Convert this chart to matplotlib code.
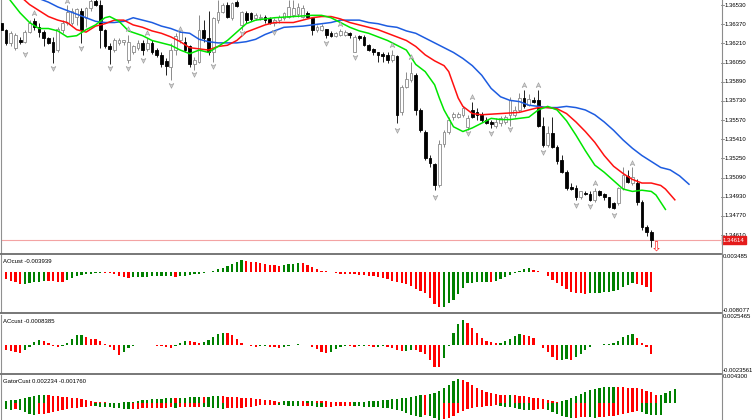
import numpy as np
import matplotlib.pyplot as plt
import matplotlib.transforms as mtransforms
from matplotlib.lines import Line2D
from matplotlib.path import Path

# ---- price data (EURUSD-like, one bar per index) ----
opens = [1.3643, 1.3637, 1.3626, 1.3622, 1.3628, 1.3627, 1.3635, 1.3644, 1.3639, 1.3635,
         1.3630, 1.3627, 1.3620, 1.3637, 1.3643, 1.3643, 1.3648, 1.3653, 1.3647, 1.3655,
         1.3661, 1.3658, 1.3637, 1.3623, 1.3620, 1.3626, 1.3627, 1.3612, 1.3618, 1.3622,
         1.3626, 1.3621, 1.3626, 1.3620, 1.3616, 1.3611, 1.3606, 1.3620, 1.3628, 1.3627,
         1.3623, 1.3608, 1.3610, 1.3637, 1.3630, 1.3618, 1.3645, 1.3652, 1.3658, 1.3647,
         1.3660, 1.3641, 1.3651, 1.3651, 1.3647, 1.3647, 1.3648, 1.3646, 1.3643, 1.3645,
         1.3647, 1.3648, 1.3649, 1.3650, 1.3648, 1.3651, 1.3647, 1.3637, 1.3637, 1.3638,
         1.3634, 1.3632, 1.3633, 1.3633, 1.3634, 1.3618, 1.3632, 1.3631, 1.3624, 1.3621,
         1.3618, 1.3617, 1.3616, 1.3612, 1.3615, 1.3568, 1.3589, 1.3595, 1.3599, 1.3570,
         1.3552, 1.3530, 1.3525, 1.3507, 1.3542, 1.3552, 1.3564, 1.3564, 1.3566, 1.3556,
         1.3570, 1.3568, 1.3566, 1.3562, 1.3560, 1.3557, 1.3559, 1.3560, 1.3566, 1.3566,
         1.3570, 1.3580, 1.3574, 1.3578, 1.3578, 1.3557, 1.3541, 1.3551, 1.3539, 1.3528,
         1.3518, 1.3506, 1.3505, 1.3497, 1.3501, 1.3500, 1.3495, 1.3502, 1.3500, 1.3497,
         1.3492, 1.3492, 1.3505, 1.3515, 1.3509, 1.3509, 1.3493, 1.3472, 1.3468]
highs = [1.3645, 1.3638, 1.3636, 1.3634, 1.3631, 1.3637, 1.3645, 1.3647, 1.3643, 1.3637,
         1.3631, 1.3631, 1.3639, 1.3645, 1.3658, 1.3655, 1.3655, 1.3655, 1.3656, 1.3664,
         1.3664, 1.3662, 1.3638, 1.3626, 1.3630, 1.3630, 1.3628, 1.3633, 1.3624, 1.3628,
         1.3628, 1.3630, 1.3628, 1.3622, 1.3618, 1.3613, 1.3626, 1.3634, 1.3636, 1.3631,
         1.3624, 1.3614, 1.3649, 1.3645, 1.3653, 1.3648, 1.3662, 1.3659, 1.3660, 1.3660,
         1.3662, 1.3653, 1.3653, 1.3652, 1.3651, 1.3650, 1.3649, 1.3648, 1.3647, 1.3649,
         1.3652, 1.3662, 1.3662, 1.3659, 1.3658, 1.3653, 1.3648, 1.3641, 1.3642, 1.3638,
         1.3636, 1.3635, 1.3638, 1.3637, 1.3635, 1.3633, 1.3633, 1.3633, 1.3625, 1.3622,
         1.3618, 1.3618, 1.3618, 1.3620, 1.3616, 1.3591, 1.3602, 1.3610, 1.3601, 1.3572,
         1.3553, 1.3532, 1.3526, 1.3545, 1.3553, 1.3564, 1.3568, 1.3568, 1.3573, 1.3566,
         1.3577, 1.3572, 1.3568, 1.3564, 1.3562, 1.3563, 1.3565, 1.3566, 1.3581, 1.3573,
         1.3584, 1.3587, 1.3583, 1.3581, 1.3587, 1.3564, 1.3557, 1.3564, 1.3541, 1.3532,
         1.3520, 1.3509, 1.3507, 1.3502, 1.3502, 1.3502, 1.3505, 1.3503, 1.3501, 1.3497,
         1.3493, 1.3506, 1.3522, 1.3520, 1.3522, 1.3512, 1.3495, 1.3474, 1.3470]
lows = [1.3635, 1.3624, 1.3623, 1.3620, 1.3625, 1.3626, 1.3634, 1.3637, 1.3631, 1.3623,
        1.3625, 1.3609, 1.3618, 1.3634, 1.3641, 1.3641, 1.3641, 1.3626, 1.3639, 1.3653,
        1.3657, 1.3622, 1.3622, 1.3608, 1.3618, 1.3624, 1.3624, 1.3609, 1.3617, 1.3620,
        1.3616, 1.3619, 1.3617, 1.3614, 1.3606, 1.3599, 1.3595, 1.3616, 1.3626, 1.3618,
        1.3606, 1.3603, 1.3609, 1.3627, 1.3616, 1.3610, 1.3643, 1.3651, 1.3647, 1.3645,
        1.3656, 1.3637, 1.3643, 1.3644, 1.3645, 1.3645, 1.3643, 1.3642, 1.3640, 1.3643,
        1.3645, 1.3647, 1.3648, 1.3648, 1.3647, 1.3647, 1.3633, 1.3635, 1.3636, 1.3630,
        1.3631, 1.3631, 1.3632, 1.3632, 1.3630, 1.3618, 1.3628, 1.3623, 1.3619, 1.3616,
        1.3610, 1.3610, 1.3609, 1.3610, 1.3559, 1.3566, 1.3588, 1.3593, 1.3566, 1.3552,
        1.3528, 1.3522, 1.3503, 1.3506, 1.3539, 1.3550, 1.3562, 1.3563, 1.3564, 1.3553,
        1.3563, 1.3562, 1.3560, 1.3558, 1.3555, 1.3555, 1.3557, 1.3558, 1.3557, 1.3564,
        1.3568, 1.3572, 1.3573, 1.3576, 1.3556, 1.3539, 1.3539, 1.3538, 1.3525, 1.3517,
        1.3503, 1.3503, 1.3495, 1.3496, 1.3499, 1.3494, 1.3493, 1.3498, 1.3495, 1.3488,
        1.3487, 1.3491, 1.3503, 1.3509, 1.3507, 1.3491, 1.3470, 1.3465, 1.3456]
closes = [1.3637, 1.3626, 1.3634, 1.3633, 1.3627, 1.3635, 1.3643, 1.3639, 1.3635, 1.3630,
          1.3626, 1.3618, 1.3638, 1.3643, 1.3652, 1.3653, 1.3654, 1.3637, 1.3655, 1.3661,
          1.3658, 1.3637, 1.3623, 1.3621, 1.3628, 1.3628, 1.3628, 1.3627, 1.3623, 1.3626,
          1.3620, 1.3626, 1.3618, 1.3616, 1.3608, 1.3607, 1.3620, 1.3632, 1.3635, 1.3620,
          1.3608, 1.3612, 1.3637, 1.3630, 1.3618, 1.3647, 1.3652, 1.3658, 1.3648, 1.3659,
          1.3657, 1.3652, 1.3645, 1.3646, 1.3649, 1.3648, 1.3645, 1.3643, 1.3645, 1.3648,
          1.3651, 1.3656, 1.3655, 1.3656, 1.3655, 1.3648, 1.3637, 1.3639, 1.3640, 1.3633,
          1.3632, 1.3634, 1.3636, 1.3635, 1.3633, 1.3631, 1.3630, 1.3624, 1.3620, 1.3618,
          1.3616, 1.3615, 1.3612, 1.3616, 1.3566, 1.3589, 1.3596, 1.3601, 1.3570, 1.3553,
          1.3530, 1.3526, 1.3507, 1.3542, 1.3552, 1.3562, 1.3567, 1.3567, 1.3572, 1.3563,
          1.3564, 1.3566, 1.3562, 1.3559, 1.3558, 1.3560, 1.3563, 1.3564, 1.3578, 1.3570,
          1.3580, 1.3573, 1.3579, 1.3577, 1.3557, 1.3541, 1.3551, 1.3539, 1.3527, 1.3518,
          1.3505, 1.3504, 1.3497, 1.3502, 1.3500, 1.3495, 1.3502, 1.3499, 1.3497, 1.3489,
          1.3488, 1.3505, 1.3516, 1.3510, 1.3514, 1.3493, 1.3472, 1.3468, 1.34614]

# alligator lines (read at selected bars, shifted lines run past the last bar)
lips_idx = [0, 2, 4, 6, 8, 10, 12, 14, 16, 18, 20, 22, 23, 25, 27, 30, 32, 34, 36, 38,
            40, 42, 44, 46, 48, 50, 52, 54, 58, 62, 66, 68, 70, 72, 74, 76, 78, 80, 82, 84,
            86, 87, 88, 90, 92, 93, 94, 95, 96, 98, 100, 102, 104, 106, 108, 110, 112, 114, 116, 118,
            120, 122, 124, 126, 128, 130, 132, 134, 136, 138, 139, 140, 141]
lips = [1.3672, 1.3661, 1.3651, 1.3643, 1.3638, 1.3638, 1.3636, 1.3631, 1.3632, 1.3637,
        1.3641, 1.3647, 1.3648, 1.3644, 1.3636, 1.3632, 1.3628, 1.3626, 1.3624, 1.3620,
        1.3617, 1.3620, 1.3618, 1.3623, 1.3628, 1.3635, 1.3642, 1.3645, 1.3647, 1.3648,
        1.3649, 1.3649, 1.3647, 1.3643, 1.3639, 1.3636, 1.3634, 1.3631, 1.3628, 1.3624,
        1.3620, 1.3614, 1.3608, 1.3602, 1.3591, 1.3580, 1.3570, 1.3563, 1.3556, 1.3552,
        1.3555, 1.3559, 1.3563, 1.3562, 1.3562, 1.3563, 1.3564, 1.3570, 1.3573, 1.3570,
        1.3561, 1.3549, 1.3536, 1.3524, 1.3518, 1.3511, 1.3504, 1.3502, 1.3503, 1.3502,
        1.3499, 1.3493, 1.3487]
teeth_idx = [0, 2, 4, 6, 8, 10, 12, 14, 16, 18, 20, 22, 24, 26, 28, 30, 32, 34, 36, 38,
             40, 42, 44, 46, 48, 50, 52, 54, 56, 58, 62, 66, 68, 70, 72, 74, 76, 78, 80, 82,
             84, 86, 88, 90, 92, 94, 95, 96, 97, 98, 100, 102, 106, 110, 114, 116, 118, 120, 122, 124,
             126, 128, 130, 132, 134, 136, 138, 140, 141, 143]
teeth = [1.3677, 1.3670, 1.3665, 1.3658, 1.3653, 1.3648, 1.3645, 1.3643, 1.3637, 1.3635,
         1.3640, 1.3642, 1.3645, 1.3645, 1.3641, 1.3639, 1.3636, 1.3634, 1.3631, 1.3627,
         1.3622, 1.3621, 1.3620, 1.3623, 1.3624, 1.3628, 1.3635, 1.3638, 1.3641, 1.3643,
         1.3643, 1.3647, 1.3648, 1.3648, 1.3646, 1.3643, 1.3641, 1.3639, 1.3637, 1.3634,
         1.3631, 1.3628, 1.3623, 1.3616, 1.3611, 1.3607, 1.3602, 1.3591, 1.3580, 1.3573,
         1.3567, 1.3566, 1.3567, 1.3568, 1.3572, 1.3572, 1.3571, 1.3567, 1.3560, 1.3552,
         1.3543, 1.3532, 1.3523, 1.3517, 1.3512, 1.3509, 1.3509, 1.3507, 1.3504, 1.3495]
jaw_idx = [0, 4, 8, 10, 12, 14, 16, 18, 20, 22, 24, 26, 28, 30, 32, 34, 36, 38, 40, 42,
           44, 46, 48, 50, 52, 54, 56, 58, 60, 64, 68, 70, 72, 74, 76, 78, 80, 82, 84, 86,
           88, 90, 92, 94, 96, 98, 100, 102, 104, 106, 108, 110, 112, 114, 116, 118, 120, 122, 124, 126,
           128, 130, 132, 134, 136, 138, 140, 142, 144, 146]
jaw = [1.3677, 1.3670, 1.3663, 1.3660, 1.3656, 1.3653, 1.3650, 1.3647, 1.3644, 1.3643,
       1.3643, 1.3644, 1.3647, 1.3645, 1.3643, 1.3640, 1.3638, 1.3635, 1.3634, 1.3629,
       1.3627, 1.3626, 1.3626, 1.3626, 1.3627, 1.3629, 1.3633, 1.3636, 1.3639, 1.3640,
       1.3642, 1.3643, 1.3645, 1.3645, 1.3645, 1.3643, 1.3642, 1.3640, 1.3639, 1.3636,
       1.3634, 1.3630, 1.3626, 1.3622, 1.3618, 1.3613, 1.3607, 1.3599, 1.3588, 1.3581,
       1.3578, 1.3577, 1.3574, 1.3573, 1.3572, 1.3572, 1.3573, 1.3572, 1.3570, 1.3566,
       1.3560, 1.3553, 1.3545, 1.3538, 1.3532, 1.3527, 1.3522, 1.3520, 1.3515, 1.3508]

# fractal arrows
up_idx = [7, 14, 27, 31, 38, 72, 83, 87, 100, 111, 114, 126, 134]
up_px = [1.3651, 1.3661, 1.3638, 1.3634, 1.3638, 1.3642, 1.3624, 1.3614, 1.3581, 1.3591,
         1.3591, 1.3509, 1.3526]
dn_idx = [5, 11, 17, 23, 27, 30, 36, 41, 45, 51, 58, 69, 75, 84, 92, 99, 104, 108, 115, 122,
          125, 130]
dn_px = [1.3617, 1.3605, 1.3622, 1.3605, 1.3605, 1.3612, 1.3591, 1.3600, 1.3607, 1.3634,
         1.3635, 1.3626, 1.3614, 1.3553, 1.3497, 1.3551, 1.3551, 1.3554, 1.3535, 1.3491,
         1.3490, 1.3482]
sell_idx = 139
sell_px = 1.3460

price_ticks = [1.36530, 1.36370, 1.36210, 1.36050, 1.35890, 1.35730, 1.35570,
               1.35410, 1.35250, 1.35090, 1.34930, 1.34770, 1.34610]

# ---- sub-window indicators ----
ao = [-0.00125, -0.00138, -0.00172, -0.00206, -0.00246, -0.00233, -0.00219, -0.00206, -0.00192, -0.00172,
      -0.00179, -0.00185, -0.00192, -0.00199, -0.00158, -0.00125, -0.00077, -0.00057, -0.00037, -0.00030,
      -0.00016, -0.00009, -0.00013, -0.00016, -0.00037, -0.00070, -0.00091, -0.00111, -0.00104, -0.00097,
      -0.00094, -0.00091, -0.00087, -0.00084, -0.00081, -0.00077, -0.00074, -0.00091, -0.00084, -0.00070,
      -0.00057, -0.00043, -0.00030, -0.00016, -0.00006, 0.00018, 0.00058, 0.00092, 0.00133, 0.00167,
      0.00207, 0.00241, 0.00227, 0.00214, 0.00200, 0.00187, 0.00173, 0.00153, 0.00139, 0.00133,
      0.00146, 0.00160, 0.00173, 0.00187, 0.00180, 0.00146, 0.00099, 0.00058, 0.00031, 0.00018,
      0.00004, -0.00023, -0.00030, -0.00037, -0.00040, -0.00043, -0.00050, -0.00057, -0.00070, -0.00084,
      -0.00091, -0.00111, -0.00145, -0.00172, -0.00192, -0.00213, -0.00240, -0.00280, -0.00348, -0.00375,
      -0.00416, -0.00531, -0.00646, -0.00714, -0.00700, -0.00632, -0.00565, -0.00443, -0.00328, -0.00226,
      -0.00219, -0.00206, -0.00199, -0.00192, -0.00196, -0.00172, -0.00145, -0.00104, -0.00057, -0.00023,
      0.00031, 0.00058, 0.00092, 0.00045, 0.00018, 0.00004, -0.00077, -0.00158, -0.00226, -0.00280,
      -0.00348, -0.00395, -0.00416, -0.00429, -0.00436, -0.00429, -0.00422, -0.00416, -0.00409, -0.00395,
      -0.00382, -0.00362, -0.00307, -0.00260, -0.00226, -0.00233, -0.00253, -0.00294, -0.003939]
ao_range = (-0.008077, 0.003485)

ac = [-0.00037, -0.00043, -0.00052, -0.00063, -0.00069, -0.00046, -0.00017, 0.00026, 0.00040, 0.00034,
      0.00011, -0.00011, -0.00020, -0.00009, 0.00011, 0.00046, 0.00080, 0.00086, 0.00063, 0.00052,
      0.00046, 0.00029, 0.00006, -0.00017, -0.00046, -0.00086, -0.00060, -0.00026, -0.00009, -0.00004,
      -0.00006, -0.00003, -0.00006, -0.00009, -0.00011, -0.00017, -0.00029, -0.00011, 0.00011, 0.00034,
      0.00029, 0.00020, 0.00011, 0.00023, 0.00040, 0.00063, 0.00092, 0.00103, 0.00100, 0.00080,
      0.00046, 0.00011, -0.00003, -0.00011, -0.00017, -0.00014, -0.00011, -0.00017, -0.00023, -0.00032,
      -0.00023, -0.00011, -0.00003, 0.00009, 0.00000, -0.00006, -0.00023, -0.00040, -0.00060, -0.00069,
      -0.00063, -0.00040, -0.00023, -0.00011, -0.00014, -0.00020, -0.00014, -0.00011, -0.00014, -0.00023,
      -0.00017, -0.00014, -0.00023, -0.00029, -0.00046, -0.00057, -0.00052, -0.00046, -0.00049, -0.00063,
      -0.00080, -0.00132, -0.00189, -0.00195, -0.00118, -0.00009, 0.00098, 0.00178, 0.00212, 0.00184,
      0.00141, 0.00098, 0.00055, 0.00034, 0.00026, 0.00011, 0.00014, 0.00034, 0.00052, 0.00075,
      0.00092, 0.00083, 0.00075, 0.00055, 0.00000, -0.00032, -0.00060, -0.00103, -0.00132, -0.00129,
      -0.00126, -0.00135, -0.00103, -0.00080, -0.00046, -0.00017, -0.00003, 0.00000, 0.00001, 0.00006,
      0.00017, 0.00034, 0.00063, 0.00086, 0.00092, 0.00055, 0.00011, -0.00023, -0.0008385]
ac_range = (-0.0023561, 0.0025465)

gator_up = [0.00030, 0.00038, 0.00046, 0.00053, 0.00061, 0.00076, 0.00091, 0.00106, 0.00122, 0.00129,
            0.00122, 0.00114, 0.00106, 0.00099, 0.00091, 0.00084, 0.00076, 0.00061, 0.00046, 0.00038,
            0.00030, 0.00023, 0.00018, 0.00015, 0.00012, 0.00015, 0.00018, 0.00023, 0.00030, 0.00038,
            0.00046, 0.00053, 0.00061, 0.00065, 0.00070, 0.00076, 0.00079, 0.00076, 0.00081, 0.00085,
            0.00091, 0.00096, 0.00099, 0.00096, 0.00100, 0.00106, 0.00111, 0.00108, 0.00103, 0.00099,
            0.00094, 0.00088, 0.00082, 0.00076, 0.00068, 0.00061, 0.00053, 0.00046, 0.00038, 0.00030,
            0.00033, 0.00036, 0.00040, 0.00043, 0.00038, 0.00041, 0.00044, 0.00041, 0.00038, 0.00035,
            0.00030, 0.00027, 0.00024, 0.00023, 0.00021, 0.00024, 0.00027, 0.00030, 0.00033, 0.00038,
            0.00043, 0.00049, 0.00055, 0.00061, 0.00068, 0.00076, 0.00084, 0.00099, 0.00114, 0.00129,
            0.00125, 0.00144, 0.00160, 0.00190, 0.00228, 0.00274, 0.00334, 0.00365, 0.00350, 0.00319,
            0.00274, 0.00228, 0.00198, 0.00167, 0.00152, 0.00137, 0.00129, 0.00122, 0.00126, 0.00122,
            0.00114, 0.00106, 0.00099, 0.00084, 0.00076, 0.00061, 0.00046, 0.00038, 0.00030, 0.00038,
            0.00053, 0.00076, 0.00106, 0.00137, 0.00167, 0.00198, 0.00220, 0.00236, 0.00243, 0.00248,
            0.00251, 0.00248, 0.00243, 0.00239, 0.00233, 0.00228, 0.00213, 0.00190, 0.00167, 0.00122,
            0.00125, 0.00152, 0.00182, 0.002234]
gator_dn = [-0.00061, -0.00076, -0.00091, -0.00084, -0.00099, -0.00122, -0.00152, -0.00167, -0.00160, -0.00152,
            -0.00137, -0.00122, -0.00106, -0.00091, -0.00076, -0.00068, -0.00061, -0.00053, -0.00046, -0.00038,
            -0.00043, -0.00046, -0.00050, -0.00053, -0.00061, -0.00068, -0.00076, -0.00084, -0.00079, -0.00076,
            -0.00073, -0.00070, -0.00067, -0.00065, -0.00064, -0.00061, -0.00058, -0.00061, -0.00058, -0.00055,
            -0.00052, -0.00049, -0.00046, -0.00050, -0.00055, -0.00061, -0.00068, -0.00076, -0.00073, -0.00068,
            -0.00064, -0.00061, -0.00053, -0.00046, -0.00038, -0.00030, -0.00027, -0.00024, -0.00023, -0.00027,
            -0.00030, -0.00033, -0.00036, -0.00040, -0.00038, -0.00035, -0.00038, -0.00046, -0.00053, -0.00050,
            -0.00046, -0.00043, -0.00040, -0.00036, -0.00033, -0.00038, -0.00043, -0.00046, -0.00049, -0.00053,
            -0.00058, -0.00061, -0.00068, -0.00076, -0.00091, -0.00114, -0.00137, -0.00167, -0.00182, -0.00198,
            -0.00167, -0.00182, -0.00213, -0.00243, -0.00228, -0.00213, -0.00182, -0.00137, -0.00106, -0.00084,
            -0.00068, -0.00053, -0.00046, -0.00038, -0.00033, -0.00030, -0.00038, -0.00046, -0.00053, -0.00068,
            -0.00084, -0.00091, -0.00099, -0.00091, -0.00084, -0.00076, -0.00091, -0.00122, -0.00152, -0.00182,
            -0.00205, -0.00220, -0.00213, -0.00205, -0.00198, -0.00205, -0.00213, -0.00205, -0.00198, -0.00190,
            -0.00182, -0.00167, -0.00152, -0.00137, -0.00122, -0.00114, -0.00129, -0.00152, -0.00167, -0.00175,
            -0.00176]
gator_range = (-0.0043, 0.0043)

GREEN = '#008000'
RED = '#ff0000'
FONT = 'Liberation Sans'
FS = 4.3


def bar_colors(vals, first, use_abs=False):
    v = np.abs(vals) if use_abs else np.asarray(vals)
    cols = [first]
    for a, b in zip(v[:-1], v[1:]):
        cols.append(GREEN if b > a else RED)
    return cols


W, H = 752, 420
fig = plt.figure(figsize=(W / 100, H / 100), dpi=100)


def px_axes(x0, y0, x1, y1):
    return fig.add_axes([x0 / W, 1 - y1 / H, (x1 - x0) / W, (y1 - y0) / H])


xlim = (-0.064, 152.8)
ax = px_axes(1, 0, 721, 253)
ax_ao = px_axes(1, 255, 721, 312)
ax_ac = px_axes(1, 315, 721, 372)
ax_gt = px_axes(1, 375, 721, 432)

for a in (ax, ax_ao, ax_ac, ax_gt):
    a.set_xlim(*xlim)
    a.set_xticks([])
    a.set_yticks([])
    for s in ('top', 'bottom', 'right'):
        a.spines[s].set_visible(False)
    a.spines['left'].set_color('#909090')
    a.spines['left'].set_linewidth(0.8)

# ---- candles ----
o = np.array(opens)
h = np.array(highs)
l = np.array(lows)
c = np.array(closes)
x = np.arange(len(o))
bull = c >= o
body_lo = np.minimum(o, c)
body_h = np.maximum(np.abs(c - o), 0.000025)
ax.vlines(x[bull], l[bull], h[bull], color='#8a8a8a', lw=0.7, zorder=2)
ax.vlines(x[~bull], l[~bull], h[~bull], color='#202020', lw=0.7, zorder=2)
ax.bar(x[bull], body_h[bull], bottom=body_lo[bull], width=0.58,
       facecolor='white', edgecolor='#8a8a8a', linewidth=0.6, zorder=3)
ax.bar(x[~bull], body_h[~bull], bottom=body_lo[~bull], width=0.58,
       facecolor='black', edgecolor='black', linewidth=0.6, zorder=3)

# alligator
ax.plot(jaw_idx, jaw, color='#1d5ce0', lw=1.1, zorder=4)
ax.plot(teeth_idx, teeth, color='#ff1010', lw=1.1, zorder=5)
ax.plot(lips_idx, lips, color='#00e600', lw=1.1, zorder=6)

# fractals
up_marker = Path([(0, 1), (0.85, -0.75), (0, -0.25), (-0.85, -0.75), (0, 1)])
dn_marker = Path([(0, -1), (0.85, 0.75), (0, 0.25), (-0.85, 0.75), (0, -1)])
ax.plot(up_idx, up_px, ls='none', marker=up_marker, ms=4.0, mfc='#cfcfcf',
        mec='#9a9a9a', mew=0.4, zorder=7)
ax.plot(dn_idx, dn_px, ls='none', marker=dn_marker, ms=4.0, mfc='#cfcfcf',
        mec='#9a9a9a', mew=0.4, zorder=7)

# bid line and sell arrow
ax.axhline(c[-1], color='#f3a3a3', lw=0.8, zorder=1)
ax.text(sell_idx, sell_px, '\u21e9', color='#ff2020', fontsize=9.5, ha='center',
        va='top', family='DejaVu Sans', clip_on=False, zorder=8)

ax.set_ylim(1.34506, 1.36618)

# price scale (labels sit a little above their level, as in the terminal)
shift = mtransforms.ScaledTranslation(0, 5.5 / 100, fig.dpi_scale_trans)
ytrans = mtransforms.blended_transform_factory(ax.transAxes, ax.transData)
for p in price_ticks:
    ax.text(1.0045, p, f'{p:.5f}', transform=ytrans + shift, fontsize=FS,
            family=FONT, va='center', ha='left', clip_on=False)
    ax.plot([1.0, 1.0035], [p, p], transform=ytrans + shift, color='#808080',
            lw=0.6, clip_on=False)
ax.text(1.0025, c[-1], f'{c[-1]:.5f}', transform=ytrans, fontsize=FS, family=FONT,
        color='white', va='center', ha='left', clip_on=False, zorder=9,
        bbox=dict(boxstyle='square,pad=0.18', fc='#e41b1b', ec='#e41b1b'))

# ---- AO ----
ax_ao.bar(np.arange(len(ao)), ao, width=0.48, color=bar_colors(ao, RED), linewidth=0)
ax_ao.set_ylim(*ao_range)
ax_ao.text(0.003, 0.93, f'AOcust {ao[-1]:.6f}', transform=ax_ao.transAxes,
           fontsize=FS, family=FONT, va='top', ha='left')

# ---- AC ----
ax_ac.bar(np.arange(len(ac)), ac, width=0.48, color=bar_colors(ac, GREEN), linewidth=0)
ax_ac.set_ylim(*ac_range)
ax_ac.text(0.003, 0.93, f'ACcust {ac[-1]:.7f}', transform=ax_ac.transAxes,
           fontsize=FS, family=FONT, va='top', ha='left')

# ---- Gator ----
ax_gt.bar(np.arange(len(gator_up)), gator_up, width=0.48,
          color=bar_colors(gator_up, GREEN, True), linewidth=0)
ax_gt.bar(np.arange(len(gator_dn)), gator_dn, width=0.48,
          color=bar_colors(gator_dn, RED, True), linewidth=0)
ax_gt.set_ylim(*gator_range)
ax_gt.text(0.003, 0.93, f'GatorCust {gator_up[-1]:.6f} {gator_dn[-1]:.6f}',
           transform=ax_gt.transAxes, fontsize=FS, family=FONT, va='top', ha='left')

# sub-window scale labels
for txt, ypx in [(f'{ao_range[1]:.6f}', 256.5), (f'{ao_range[0]:.6f}', 310),
                 (f'{ac_range[1]:.7f}', 316.5), (f'{ac_range[0]:.7f}', 370),
                 (f'{gator_range[1]:.6f}', 377)]:
    fig.text(723 / W, 1 - ypx / H, txt, fontsize=FS, family=FONT, va='center', ha='left')

# separators and the price-scale border
for ypx in (254, 313.3, 374):
    fig.add_artist(Line2D([0, 721 / W], [1 - ypx / H] * 2, color='#6c6c6c', lw=1.3))
fig.add_artist(Line2D([721.5 / W] * 2, [0, 1], color='#8c8c8c', lw=0.8))

fig.savefig('out.png', dpi=100)
